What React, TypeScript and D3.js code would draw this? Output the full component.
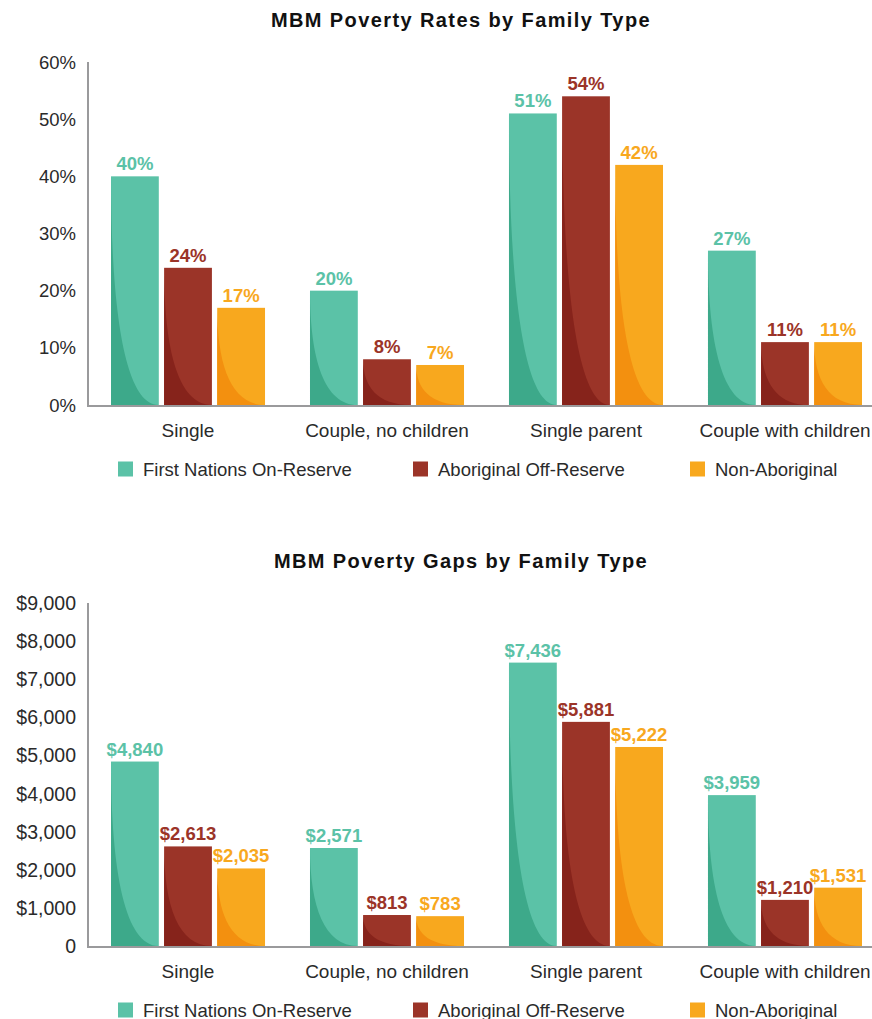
import React from "react";
import * as d3 from "d3";

const categories = ["Single", "Couple, no children", "Single parent", "Couple with children"];
const seriesNames = ["First Nations On-Reserve", "Aboriginal Off-Reserve", "Non-Aboriginal"];
const seriesColors = ["#5BC2A7", "#9B3428", "#F8A81E"];
const seriesDark = ["#3DA98A", "#86231B", "#F3900F"];

// Poverty rates (%), per series, by category
const rateFirstNations = [40, 20, 51, 27];
const rateAboriginalOff = [24, 8, 54, 11];
const rateNonAboriginal = [17, 7, 42, 11];
const rateTicks = [0, 10, 20, 30, 40, 50, 60];

// Poverty gaps ($), per series, by category
const gapFirstNations = [4840, 2571, 7436, 3959];
const gapAboriginalOff = [2613, 813, 5881, 1210];
const gapNonAboriginal = [2035, 783, 5222, 1531];
const gapTicks = [0, 1000, 2000, 3000, 4000, 5000, 6000, 7000, 8000, 9000];

const FONT = "'Liberation Sans', Arial, sans-serif";

type ChartProps = {
  title: string;
  titleY: number;
  top: number;
  bottom: number;
  series: number[][];
  ticks: number[];
  maxV: number;
  tickFmt: (v: number) => string;
  valFmt: (v: number) => string;
  tickSize: number;
};

function BarChart({ title, titleY, top, bottom, series, ticks, maxV, tickFmt, valFmt, tickSize }: ChartProps) {
  const axisX = 88;
  const x0 = d3
    .scaleBand<string>()
    .domain(categories)
    .range([axisX, 885])
    .paddingInner(0.226)
    .paddingOuter(0.1156);
  const inner = d3
    .scaleBand<number>()
    .domain([0, 1, 2])
    .range([0, x0.bandwidth()])
    .paddingInner(0.1);
  const y = d3.scaleLinear().domain([0, maxV]).range([bottom, top]);
  const legendY = bottom + 64;
  const legendX = [118, 413, 690];

  return (
    <g>
      <text
        x={461}
        y={titleY}
        textAnchor="middle"
        dominantBaseline="central"
        fontFamily={FONT}
        fontWeight="bold"
        fontSize={20}
        letterSpacing={1.4}
        fill="#111"
      >
        {title}
      </text>
      {ticks.map((t) => (
        <text
          key={t}
          x={76}
          y={y(t)}
          textAnchor="end"
          dominantBaseline="central"
          fontFamily={FONT}
          fontSize={tickSize}
          fill="#2a2a2a"
        >
          {tickFmt(t)}
        </text>
      ))}
      {categories.map((c, ci) =>
        series.map((s, si) => {
          const v = s[ci];
          const bx = (x0(c) as number) + (inner(si) as number);
          const w = inner.bandwidth();
          const by = y(v);
          const h = bottom - by;
          const a = 0.6;
          const b = 0.3;
          const shade = `M${bx},${by} C${bx},${by + h * a} ${bx + w * b},${bottom} ${bx + w},${bottom} L${bx},${bottom} Z`;
          return (
            <g key={c + si}>
              <rect x={bx} y={by} width={w} height={h} fill={seriesColors[si]} />
              <path d={shade} fill={seriesDark[si]} />
              <text
                x={bx + w / 2}
                y={by - 6}
                textAnchor="middle"
                fontFamily={FONT}
                fontWeight="bold"
                fontSize={18.5}
                fill={seriesColors[si]}
              >
                {valFmt(v)}
              </text>
            </g>
          );
        })
      )}
      <line x1={axisX} x2={axisX} y1={top} y2={bottom + 1} stroke="#9a9a9c" strokeWidth={2} />
      <line x1={axisX - 1} x2={872} y1={bottom + 1} y2={bottom + 1} stroke="#9a9a9c" strokeWidth={2} />
      {categories.map((c) => (
        <text
          key={c}
          x={(x0(c) as number) + x0.bandwidth() / 2}
          y={bottom + 25}
          textAnchor="middle"
          dominantBaseline="central"
          fontFamily={FONT}
          fontSize={19}
          fill="#2a2a2a"
        >
          {c}
        </text>
      ))}
      {seriesNames.map((n, i) => (
        <g key={n}>
          <rect x={legendX[i]} y={legendY - 7.5} width={15} height={15} fill={seriesColors[i]} />
          <text
            x={legendX[i] + 25}
            y={legendY}
            dominantBaseline="central"
            fontFamily={FONT}
            fontSize={18.5}
            fill="#2a2a2a"
          >
            {n}
          </text>
        </g>
      ))}
    </g>
  );
}

export default function App() {
  const pct = (v: number) => `${v}%`;
  const dollars = (v: number) => (v === 0 ? "0" : "$" + d3.format(",")(v));
  return (
    <svg
      width={872}
      height={1019}
      style={{ position: "absolute", left: 0, top: 0, background: "#fff" }}
    >
      <rect width={872} height={1019} fill="#fff" />
      <BarChart
        title="MBM Poverty Rates by Family Type"
        titleY={20}
        top={62}
        bottom={405}
        series={[rateFirstNations, rateAboriginalOff, rateNonAboriginal]}
        ticks={rateTicks}
        maxV={60}
        tickFmt={pct}
        valFmt={pct}
        tickSize={18.5}
      />
      <BarChart
        title="MBM Poverty Gaps by Family Type"
        titleY={561}
        top={603}
        bottom={946}
        series={[gapFirstNations, gapAboriginalOff, gapNonAboriginal]}
        ticks={gapTicks}
        maxV={9000}
        tickFmt={dollars}
        valFmt={dollars}
        tickSize={19.5}
      />
    </svg>
  );
}
